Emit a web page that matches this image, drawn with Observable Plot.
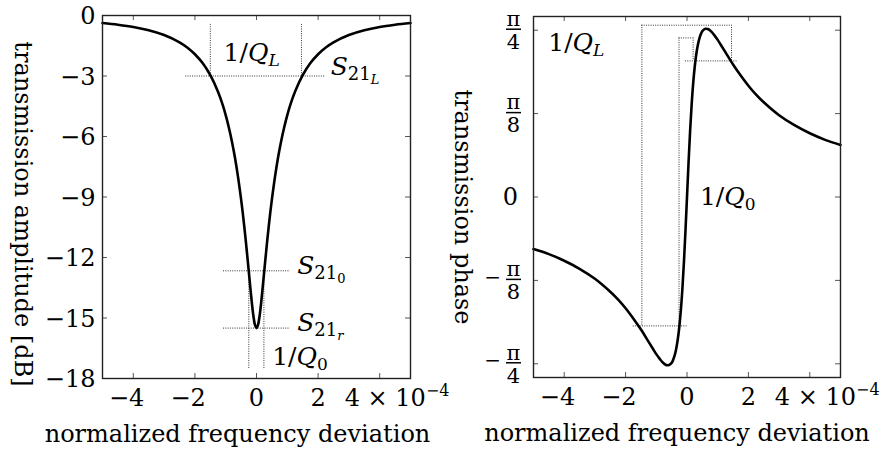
<!DOCTYPE html>
<html><head><meta charset="utf-8">
<script src="https://cdn.jsdelivr.net/npm/d3@7"></script>
<script src="https://cdn.jsdelivr.net/npm/@observablehq/plot@0.6"></script>
<style>
html,body{margin:0;padding:0;background:#fff;}
#wrap{display:flex;flex-direction:row;width:887px;height:453px;overflow:hidden;background:#fff;}
#wrap svg{flex:none;overflow:visible;}
</style></head><body><div id="wrap"></div>
<script>
// normalized frequency deviation, in units of 1e-4
const deltaE4 = [-5,-4.5,-4,-3.5,-3,-2.5,-2.25,-2,-1.75,-1.5,-1.25,-1.1,-1,-0.9,-0.8,-0.7,-0.6,-0.5,-0.45,-0.4,-0.35,-0.3,-0.25,-0.2,-0.15,-0.1,-0.05,
  0,
  0.05,0.1,0.15,0.2,0.25,0.3,0.35,0.4,0.45,0.5,0.6,0.7,0.8,0.9,1,1.1,1.25,1.5,1.75,2,2.25,2.5,3,3.5,4,4.5,5];
// transmission amplitude [dB]
const amplitudeDb = [-0.375,-0.46,-0.57,-0.73,-0.97,-1.33,-1.585,-1.92,-2.36,-2.96,-3.78,-4.42,-4.94,-5.54,-6.23,-7.04,-8.00,-9.12,-9.74,-10.42,-11.14,-11.91,-12.70,-13.50,-14.26,-14.90,-15.34,
  -15.50,
  -15.34,-14.90,-14.26,-13.50,-12.70,-11.91,-11.14,-10.42,-9.74,-9.12,-8.00,-7.04,-6.23,-5.54,-4.94,-4.42,-3.78,-2.96,-2.36,-1.92,-1.585,-1.33,-0.97,-0.73,-0.57,-0.46,-0.375];
// transmission phase [rad]
const phaseRad = [-0.245,-0.269,-0.300,-0.338,-0.385,-0.446,-0.482,-0.524,-0.572,-0.624,-0.682,-0.717,-0.740,-0.760,-0.778,-0.790,-0.792,-0.781,-0.766,-0.745,-0.713,-0.670,-0.611,-0.533,-0.432,-0.307,-0.160,
  0,
  0.160,0.307,0.432,0.533,0.611,0.670,0.713,0.745,0.766,0.781,0.792,0.790,0.778,0.760,0.740,0.717,0.682,0.624,0.572,0.524,0.482,0.446,0.385,0.338,0.300,0.269,0.245];

const xTicks = [-4,-2,0,2,4];
const xTickLabels = ["−4","−2","0","2","4e-4"];
const ampTicks = [0,-3,-6,-9,-12,-15,-18];
const ampTickLabels = ["0","−3","−6","−9","−12","−15","−18"];
const phaseTicks = [Math.PI/4, Math.PI/8, 0, -Math.PI/8, -Math.PI/4];
const phaseTickSign = ["","","","−","−"];
const phaseTickDenom = ["4","8","","8","4"];

// annotation guides (data coordinates)
const ampGuideY = [-3,-12.66,-15.5];
const ampGuideX1 = [-2.3,-1.07,-1.07];
const ampGuideX2 = [2.25,1.1,1.1];
const ampGuideX = [-1.5,1.46,-0.25,0.24];
const ampGuideY1 = [-3,-3,-12.66,-12.66];
const ampGuideY2 = [-0.4,-0.4,-17.55,-17.55];
const ampLabelText = ["1/Q_L","S21_L","S21_0","S21_r","1/Q_0"];
const ampLabelX = [-1.07,2.41,1.32,1.32,0.51];
const ampLabelY = [-1.84,-2.56,-12.4,-15.23,-16.93];

const phGuideY = [0.809,0.749,0.641,-0.607];
const phGuideX1 = [-1.47,-0.26,-0.05,-1.75];
const phGuideX2 = [1.45,0.2,1.63,0];
const phGuideX = [-1.47,1.45,-0.26,0.2];
const phGuideY1 = [0.809,0.809,0.749,0.749];
const phGuideY2 = [-0.607,0.641,-0.607,0.641];
const phLabelText = ["1/Q_L","1/Q_0"];
const phLabelX = [-4.52,0.42];
const phLabelY = [0.724,0.0];

const axisTitleX = "normalized frequency deviation";
const ampTitle = "transmission amplitude [dB]";
const phTitle = "transmission phase";

const rows = deltaE4.map((x,i)=>({x, amp: amplitudeDb[i], phase: phaseRad[i]}));
const zip = (a,b,c,keys)=>a.map((v,i)=>({[keys[0]]:v,[keys[1]]:b[i],[keys[2]]:c[i]}));
const xTickRows = xTicks.map((v,i)=>({v, label:xTickLabels[i]}));

const FONT = "'DejaVu Serif', serif";
const dot = {stroke:"#333", strokeWidth:1, strokeDasharray:"1,1.3"};
const curveStyle = {stroke:"#000", strokeWidth:2.6, curve:"catmull-rom"};
const frameStyle = {stroke:"#222", strokeWidth:1.4};
const tickStyle = {stroke:"#555", strokeWidth:1};

const rich = {
  "1/Q_L": '1/<tspan font-style="italic">Q</tspan><tspan font-style="italic" font-size="17" dy="5">L</tspan>',
  "1/Q_0": '1/<tspan font-style="italic">Q</tspan><tspan font-size="17" dy="5">0</tspan>',
  "S21_L": '<tspan font-style="italic">S</tspan><tspan font-size="18" dy="5">21</tspan><tspan font-style="italic" font-size="13" dy="4">L</tspan>',
  "S21_0": '<tspan font-style="italic">S</tspan><tspan font-size="18" dy="5">21</tspan><tspan font-size="13" dy="4">0</tspan>',
  "S21_r": '<tspan font-style="italic">S</tspan><tspan font-size="18" dy="5">21</tspan><tspan font-style="italic" font-size="13" dy="4">r</tspan>',
  "4e-4": '4 × 10<tspan font-size="16" dy="-10">−4</tspan>'
};
function enrich(svg){
  svg.querySelectorAll("text").forEach(t=>{
    const k = t.textContent;
    if (rich[k] !== undefined) t.innerHTML = rich[k];
  });
  return svg;
}

// x tick labels: negatives with digit centred on tick, exponent label to the right
function xTickLabelMarks(){
  const base = {x:"v", text:"label", frameAnchor:"bottom", lineAnchor:"top", dy:10, fontSize:24};
  return [
    Plot.text(xTickRows.filter(d=>d.v<0), {...base, textAnchor:"end", dx:11}),
    Plot.text(xTickRows.filter(d=>d.v>=0 && d.label.indexOf("e")<0), {...base, textAnchor:"middle"}),
    Plot.text(xTickRows.filter(d=>d.label.indexOf("e")>=0), {...base, textAnchor:"start", dx:-35})
  ];
}

// ---------- left panel ----------
const L = {width:440, height:453, mt:15, mb:75, ml:102, mr:30};
const LfW = L.width-L.ml-L.mr, LfH = L.height-L.mt-L.mb;
const left = Plot.plot({
  width:L.width, height:L.height, marginTop:L.mt, marginBottom:L.mb, marginLeft:L.ml, marginRight:L.mr,
  style:{fontFamily:FONT, fontSize:"24px", background:"transparent", color:"#000", overflow:"visible"},
  x:{domain:[-5,5], axis:null}, y:{domain:[-18,0], axis:null},
  marks:[
    Plot.ruleX(xTicks, {x:d=>d, insetTop:LfH-5, ...tickStyle}),
    Plot.ruleX(xTicks, {x:d=>d, insetBottom:LfH-5, ...tickStyle}),
    Plot.ruleY(ampTicks, {y:d=>d, insetRight:LfW-5, ...tickStyle}),
    Plot.ruleY(ampTicks, {y:d=>d, insetLeft:LfW-5, ...tickStyle}),
    Plot.ruleY(zip(ampGuideY,ampGuideX1,ampGuideX2,["y","x1","x2"]), {y:"y", x1:"x1", x2:"x2", ...dot}),
    Plot.ruleX(zip(ampGuideX,ampGuideY1,ampGuideY2,["x","y1","y2"]), {x:"x", y1:"y1", y2:"y2", ...dot}),
    Plot.line(rows, {x:"x", y:"amp", ...curveStyle}),
    Plot.frame(frameStyle),
    ...xTickLabelMarks(),
    Plot.text(ampTicks.map((v,i)=>({v, label:ampTickLabels[i]})), {y:"v", text:"label", frameAnchor:"left", textAnchor:"end", lineAnchor:"middle", dx:-7, dy:1, fontSize:24}),
    Plot.text(ampLabelText.map((t,i)=>({t, x:ampLabelX[i], y:ampLabelY[i]})), {x:"x", y:"y", text:"t", textAnchor:"start", lineAnchor:"middle", fontSize:25}),
    Plot.text([axisTitleX], {frameAnchor:"bottom", textAnchor:"middle", dx:-19, dy:56, lineAnchor:"middle", fontSize:24}),
    Plot.text([ampTitle], {frameAnchor:"left", textAnchor:"middle", dx:-80, dy:17, rotate:90, lineAnchor:"middle", fontSize:24})
  ]
});

// ---------- right panel ----------
const R = {width:447, height:453, mt:16, mb:76, ml:93, mr:47};
const RfW = R.width-R.ml-R.mr, RfH = R.height-R.mt-R.mb;
const fracTicks = phaseTicks.map((v,i)=>({v, sign:phaseTickSign[i], den:phaseTickDenom[i]}));
const right = Plot.plot({
  width:R.width, height:R.height, marginTop:R.mt, marginBottom:R.mb, marginLeft:R.ml, marginRight:R.mr,
  style:{fontFamily:FONT, fontSize:"24px", background:"transparent", color:"#000", overflow:"visible"},
  x:{domain:[-5,5], axis:null}, y:{domain:[-0.85,0.85], axis:null},
  marks:[
    Plot.ruleX(xTicks, {x:d=>d, insetTop:RfH-5, ...tickStyle}),
    Plot.ruleX(xTicks, {x:d=>d, insetBottom:RfH-5, ...tickStyle}),
    Plot.ruleY(phaseTicks, {y:d=>d, insetRight:RfW-5, ...tickStyle}),
    Plot.ruleY(phaseTicks, {y:d=>d, insetLeft:RfW-5, ...tickStyle}),
    Plot.ruleY(zip(phGuideY,phGuideX1,phGuideX2,["y","x1","x2"]), {y:"y", x1:"x1", x2:"x2", ...dot}),
    Plot.ruleX(zip(phGuideX,phGuideY1,phGuideY2,["x","y1","y2"]), {x:"x", y1:"y1", y2:"y2", ...dot}),
    Plot.line(rows, {x:"x", y:"phase", ...curveStyle}),
    Plot.frame(frameStyle),
    ...xTickLabelMarks(),
    // y tick labels as stacked fractions
    Plot.text(fracTicks.filter(d=>d.den), {y:"v", text:()=>"π", frameAnchor:"left", textAnchor:"middle", dx:-20, dy:-11, lineAnchor:"middle", fontSize:21}),
    Plot.text(fracTicks.filter(d=>d.den), {y:"v", text:"den", frameAnchor:"left", textAnchor:"middle", dx:-20, dy:12, lineAnchor:"middle", fontSize:21}),
    Plot.ruleY(fracTicks.filter(d=>d.den), {y:"v", insetLeft:-27, insetRight:RfW+12, dy:-1, stroke:"#000", strokeWidth:1.5}),
    Plot.text(fracTicks.filter(d=>d.sign), {y:"v", text:"sign", frameAnchor:"left", textAnchor:"middle", dx:-41, dy:-3, lineAnchor:"middle", fontSize:20}),
    Plot.text(fracTicks.filter(d=>!d.den), {y:"v", text:()=>"0", frameAnchor:"left", textAnchor:"middle", dx:-23, lineAnchor:"middle", fontSize:24}),
    Plot.text(phLabelText.map((t,i)=>({t, x:phLabelX[i], y:phLabelY[i]})), {x:"x", y:"y", text:"t", textAnchor:"start", lineAnchor:"middle", fontSize:25}),
    Plot.text([axisTitleX], {frameAnchor:"bottom", textAnchor:"middle", dx:-10, dy:56, lineAnchor:"middle", fontSize:24}),
    Plot.text([phTitle], {frameAnchor:"left", textAnchor:"middle", dx:-71, dy:10, rotate:90, lineAnchor:"middle", fontSize:24})
  ]
});

const wrap = document.getElementById("wrap");
wrap.appendChild(enrich(left));
wrap.appendChild(enrich(right));
</script></body></html>
